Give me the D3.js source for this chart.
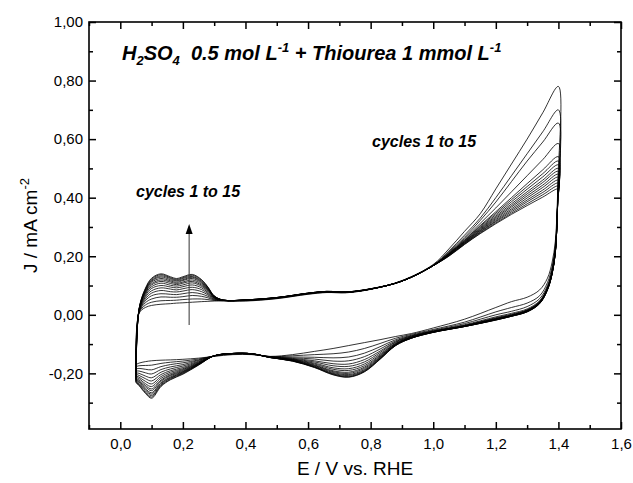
<!DOCTYPE html>
<html><head><meta charset="utf-8">
<script src="https://cdn.jsdelivr.net/npm/d3@7/dist/d3.min.js"></script>
<style>
body{margin:0;background:#fff;}
svg{display:block;font-family:"Liberation Sans",Arial,sans-serif;}
</style></head>
<body><svg id="c" width="633" height="483"></svg>
<script>
// ---- data (E in V vs RHE, J in mA cm-2) ----
const E_anodic = [0.05,0.06,0.08,0.10,0.13,0.16,0.18,0.20,0.23,0.26,0.28,0.30,0.33,0.40,0.50,0.60,0.66,0.72,0.80,0.90,1.00,1.05,1.10,1.15,1.20,1.25,1.30,1.35,1.40];
const E_cathodic = [1.398,1.395,1.39,1.38,1.365,1.34,1.30,1.25,1.20,1.10,1.00,0.93,0.88,0.83,0.78,0.73,0.68,0.62,0.55,0.48,0.42,0.36,0.30,0.25,0.20,0.16,0.13,0.10,0.08,0.06,0.05];

const J_anodic = [
 [-0.170, 0.005,0.025,0.032,0.036,0.038,0.040,0.041,0.043,0.045,0.046,0.047,0.048, 0.047,0.055,0.070,0.076,0.075,0.087,0.117,0.172, 0.225,0.285,0.345,0.430,0.515,0.600,0.690,0.780],
 [-0.177, 0.007,0.033,0.043,0.048,0.049,0.050,0.052,0.054,0.054,0.052,0.049,0.048, 0.048,0.056,0.071,0.077,0.076,0.087,0.116,0.170, 0.218,0.272,0.330,0.400,0.475,0.550,0.625,0.700],
 [-0.185, 0.009,0.041,0.054,0.061,0.060,0.060,0.062,0.066,0.063,0.058,0.051,0.048, 0.049,0.057,0.072,0.078,0.076,0.088,0.116,0.169, 0.215,0.265,0.322,0.385,0.455,0.525,0.590,0.655],
 [-0.192, 0.010,0.048,0.065,0.072,0.070,0.069,0.072,0.076,0.071,0.063,0.053,0.049, 0.050,0.058,0.073,0.079,0.077,0.088,0.115,0.168, 0.212,0.260,0.312,0.365,0.420,0.475,0.530,0.585],
 [-0.198, 0.012,0.054,0.074,0.083,0.079,0.078,0.081,0.086,0.079,0.068,0.055,0.049, 0.050,0.058,0.073,0.079,0.077,0.088,0.115,0.168, 0.210,0.256,0.305,0.352,0.400,0.448,0.495,0.540],
 [-0.203, 0.013,0.060,0.082,0.092,0.088,0.085,0.089,0.094,0.086,0.072,0.057,0.049, 0.050,0.058,0.073,0.079,0.077,0.088,0.115,0.168, 0.209,0.254,0.302,0.347,0.393,0.438,0.482,0.525],
 [-0.208, 0.014,0.065,0.090,0.100,0.095,0.092,0.096,0.102,0.092,0.076,0.058,0.049, 0.050,0.058,0.073,0.079,0.077,0.088,0.115,0.168, 0.208,0.252,0.298,0.342,0.386,0.429,0.471,0.512],
 [-0.213, 0.015,0.070,0.096,0.108,0.101,0.098,0.102,0.109,0.097,0.080,0.059,0.049, 0.050,0.058,0.073,0.079,0.077,0.088,0.115,0.168, 0.207,0.250,0.295,0.337,0.379,0.420,0.460,0.500],
 [-0.217, 0.016,0.074,0.102,0.114,0.107,0.103,0.108,0.114,0.101,0.083,0.061,0.050, 0.050,0.058,0.073,0.079,0.077,0.088,0.115,0.168, 0.206,0.249,0.292,0.333,0.373,0.413,0.452,0.490],
 [-0.220, 0.017,0.077,0.106,0.119,0.112,0.107,0.112,0.119,0.105,0.085,0.061,0.050, 0.050,0.058,0.073,0.079,0.077,0.088,0.115,0.168, 0.205,0.247,0.289,0.329,0.368,0.406,0.443,0.480],
 [-0.223, 0.018,0.080,0.111,0.124,0.116,0.111,0.117,0.124,0.109,0.088,0.062,0.050, 0.051,0.059,0.073,0.079,0.077,0.088,0.115,0.168, 0.204,0.246,0.287,0.325,0.362,0.399,0.435,0.470],
 [-0.225, 0.018,0.083,0.115,0.129,0.120,0.115,0.120,0.128,0.112,0.090,0.063,0.050, 0.051,0.059,0.074,0.080,0.078,0.088,0.115,0.168, 0.203,0.244,0.284,0.321,0.357,0.392,0.426,0.460],
 [-0.228, 0.019,0.085,0.118,0.133,0.124,0.118,0.124,0.131,0.115,0.092,0.064,0.050, 0.051,0.059,0.074,0.080,0.078,0.089,0.115,0.168, 0.202,0.243,0.282,0.318,0.352,0.386,0.418,0.450],
 [-0.230, 0.020,0.088,0.122,0.137,0.127,0.121,0.127,0.135,0.118,0.094,0.064,0.050, 0.051,0.059,0.074,0.080,0.078,0.089,0.115,0.168, 0.201,0.241,0.279,0.314,0.347,0.379,0.410,0.440],
 [-0.232, 0.020,0.090,0.125,0.140,0.130,0.124,0.130,0.138,0.120,0.095,0.065,0.050, 0.051,0.059,0.074,0.080,0.078,0.089,0.115,0.168, 0.200,0.240,0.277,0.311,0.343,0.373,0.402,0.430]
];

const J_cathodic = [
 [0.450,0.340,0.250,0.180,0.125,0.085,0.060,0.045,0.025,-0.015,-0.045, -0.064,-0.074,-0.085,-0.095,-0.105,-0.115,-0.125,-0.136,-0.142, -0.136,-0.136,-0.142, -0.148,-0.152,-0.154,-0.155,-0.157,-0.160,-0.165,-0.170],
 [0.420,0.320,0.235,0.165,0.110,0.065,0.040,0.025,0.010,-0.025,-0.050, -0.067,-0.080,-0.098,-0.115,-0.127,-0.133,-0.136,-0.140,-0.143, -0.135,-0.134,-0.141, -0.151,-0.158,-0.162,-0.166,-0.172,-0.173,-0.174,-0.177],
 [0.410,0.310,0.225,0.155,0.100,0.055,0.028,0.012,0.000,-0.030,-0.053, -0.070,-0.085,-0.109,-0.131,-0.144,-0.147,-0.145,-0.144,-0.143, -0.134,-0.133,-0.140, -0.154,-0.164,-0.170,-0.177,-0.188,-0.186,-0.183,-0.185],
 [0.405,0.305,0.220,0.150,0.095,0.048,0.020,0.005,-0.007,-0.034,-0.055, -0.072,-0.089,-0.117,-0.143,-0.157,-0.158,-0.151,-0.147,-0.144, -0.134,-0.133,-0.140, -0.156,-0.170,-0.178,-0.187,-0.202,-0.198,-0.192,-0.192],
 [0.400,0.300,0.217,0.147,0.092,0.045,0.017,0.002,-0.010,-0.036,-0.056, -0.073,-0.092,-0.124,-0.153,-0.168,-0.167,-0.157,-0.149,-0.144, -0.134,-0.133,-0.140, -0.159,-0.175,-0.185,-0.196,-0.215,-0.209,-0.200,-0.198],
 [0.400,0.300,0.216,0.146,0.091,0.044,0.016,0.000,-0.012,-0.037,-0.057, -0.075,-0.094,-0.129,-0.161,-0.176,-0.174,-0.161,-0.151,-0.145, -0.134,-0.133,-0.140, -0.161,-0.180,-0.191,-0.204,-0.226,-0.218,-0.207,-0.203],
 [0.400,0.300,0.215,0.145,0.090,0.043,0.015,-0.001,-0.013,-0.038,-0.057, -0.076,-0.097,-0.134,-0.168,-0.184,-0.181,-0.165,-0.152,-0.145, -0.133,-0.132,-0.140, -0.163,-0.184,-0.196,-0.211,-0.236,-0.227,-0.213,-0.208],
 [0.400,0.300,0.214,0.144,0.089,0.042,0.014,-0.002,-0.014,-0.038,-0.058, -0.077,-0.098,-0.138,-0.174,-0.190,-0.186,-0.168,-0.153,-0.145, -0.133,-0.132,-0.140, -0.165,-0.187,-0.201,-0.217,-0.245,-0.235,-0.218,-0.213],
 [0.400,0.300,0.213,0.143,0.088,0.041,0.013,-0.003,-0.015,-0.039,-0.058, -0.077,-0.100,-0.141,-0.179,-0.196,-0.191,-0.171,-0.154,-0.145, -0.133,-0.132,-0.140, -0.166,-0.190,-0.205,-0.223,-0.253,-0.241,-0.223,-0.217],
 [0.400,0.300,0.212,0.142,0.087,0.040,0.012,-0.003,-0.016,-0.039,-0.059, -0.078,-0.101,-0.144,-0.183,-0.200,-0.194,-0.173,-0.155,-0.146, -0.133,-0.132,-0.140, -0.167,-0.193,-0.208,-0.227,-0.259,-0.246,-0.227,-0.220],
 [0.400,0.300,0.212,0.142,0.087,0.040,0.012,-0.004,-0.016,-0.039,-0.059, -0.079,-0.102,-0.146,-0.187,-0.204,-0.197,-0.175,-0.156,-0.146, -0.133,-0.132,-0.140, -0.168,-0.195,-0.212,-0.232,-0.266,-0.252,-0.230,-0.223],
 [0.400,0.300,0.211,0.141,0.086,0.039,0.011,-0.004,-0.017,-0.040,-0.059, -0.079,-0.103,-0.148,-0.190,-0.207,-0.200,-0.177,-0.157,-0.146, -0.133,-0.132,-0.140, -0.169,-0.197,-0.215,-0.235,-0.271,-0.256,-0.234,-0.225],
 [0.400,0.300,0.211,0.141,0.086,0.039,0.011,-0.005,-0.017,-0.040,-0.060, -0.080,-0.104,-0.150,-0.192,-0.210,-0.202,-0.178,-0.157,-0.146, -0.133,-0.132,-0.140, -0.170,-0.199,-0.217,-0.239,-0.276,-0.260,-0.237,-0.228],
 [0.400,0.300,0.210,0.140,0.085,0.038,0.010,-0.005,-0.018,-0.040,-0.060, -0.080,-0.105,-0.151,-0.194,-0.212,-0.204,-0.179,-0.158,-0.146, -0.133,-0.132,-0.140, -0.171,-0.201,-0.220,-0.242,-0.281,-0.265,-0.240,-0.230],
 [0.400,0.300,0.210,0.140,0.085,0.038,0.010,-0.005,-0.018,-0.040,-0.060, -0.080,-0.105,-0.152,-0.195,-0.213,-0.205,-0.180,-0.158,-0.146, -0.133,-0.132,-0.140, -0.172,-0.203,-0.222,-0.245,-0.285,-0.268,-0.242,-0.232]
];

const xMajor = [0.0,0.2,0.4,0.6,0.8,1.0,1.2,1.4,1.6];
const xMinor = [-0.1,0.1,0.3,0.5,0.7,0.9,1.1,1.3,1.5];
const yMajor = [-0.2,0.0,0.2,0.4,0.6,0.8,1.0];
const yMinor = [-0.3,-0.1,0.1,0.3,0.5,0.7,0.9];
const arrowE = [0.22, 0.22];
const arrowJ = [-0.035, 0.31];

// ---- layout ----
const W = 633, H = 483;
const m = {l:89, r:12, t:22, b:54};
const svg = d3.select("#c");
const x = d3.scaleLinear().domain([-0.1,1.6]).range([m.l, W-m.r]);
const y = d3.scaleLinear().domain([-0.39,1.0]).range([H-m.b, m.t]);

const loc = d3.formatLocale({decimal:",", thousands:".", grouping:[3], currency:["",""], minus:"-"});
const fx = loc.format(".1f"), fy = loc.format(".2f");

// curves
const line = d3.line().x(d=>x(d[0])).y(d=>y(d[1])).curve(d3.curveCatmullRom.alpha(0.5));
const cycles = J_anodic.map((ja,i)=>{
  const pts = E_anodic.map((e,k)=>[e, ja[k]]);
  return pts.concat(E_cathodic.map((e,k)=>[e, J_cathodic[i][k]]));
});
svg.append("g").selectAll("path").data(cycles).join("path")
  .attr("d", line).attr("fill","none").attr("stroke","#000").attr("stroke-width",0.8);

// arrow
svg.append("line").attr("x1",x(arrowE[0])).attr("x2",x(arrowE[1]))
  .attr("y1",y(arrowJ[0])).attr("y2",y(arrowJ[1])+8)
  .attr("stroke","#444").attr("stroke-width",1.1);
const ax = x(arrowE[1]), ay = y(arrowJ[1]);
svg.append("path").attr("d",`M${ax},${ay} L${ax-3.5},${ay+10} L${ax+3.5},${ay+10} Z`).attr("fill","#000");

// axes (inward ticks)
const gB = svg.append("g").attr("transform",`translate(0,${H-m.b})`)
  .call(d3.axisBottom(x).tickValues(xMajor).tickSize(-7).tickPadding(9).tickFormat(fx));
gB.append("g").call(d3.axisBottom(x).tickValues(xMinor).tickSize(-4).tickFormat(""));
const gT = svg.append("g").attr("transform",`translate(0,${m.t})`)
  .call(d3.axisTop(x).tickValues(xMajor).tickSize(-7).tickFormat(""));
gT.append("g").call(d3.axisTop(x).tickValues(xMinor).tickSize(-4).tickFormat(""));
const gL = svg.append("g").attr("transform",`translate(${m.l},0)`)
  .call(d3.axisLeft(y).tickValues(yMajor).tickSize(-7).tickPadding(6).tickFormat(fy));
gL.append("g").call(d3.axisLeft(y).tickValues(yMinor).tickSize(-4).tickFormat(""));
const gR = svg.append("g").attr("transform",`translate(${W-m.r},0)`)
  .call(d3.axisRight(y).tickValues(yMajor).tickSize(-7).tickFormat(""));
gR.append("g").call(d3.axisRight(y).tickValues(yMinor).tickSize(-4).tickFormat(""));
svg.selectAll(".domain").remove();
svg.selectAll(".tick line").attr("stroke","#000").attr("stroke-width",1.5);
svg.selectAll(".tick text").attr("font-size",15).attr("font-family","Liberation Sans, Arial, sans-serif").attr("fill","#000");
svg.append("rect").attr("x",m.l).attr("y",m.t).attr("width",W-m.l-m.r).attr("height",H-m.t-m.b)
  .attr("fill","none").attr("stroke","#000").attr("stroke-width",1.6);

// axis titles
svg.append("text").attr("x",(m.l+W-m.r)/2).attr("y",475).attr("text-anchor","middle")
  .attr("font-size",19).text("E / V vs. RHE");
const yt = svg.append("text").attr("transform",`translate(37,${(m.t+H-m.b)/2}) rotate(-90)`)
  .attr("text-anchor","middle").attr("font-size",19);
yt.append("tspan").text("J / mA cm");
yt.append("tspan").attr("dy",-8).attr("font-size",13).text("-2");

// title
const t = svg.append("text").attr("x",122).attr("y",60).attr("font-size",20)
  .attr("font-weight","bold").attr("font-style","italic");
t.append("tspan").text("H");
t.append("tspan").attr("dy",5).attr("font-size",13).text("2");
t.append("tspan").attr("dy",-5).text("SO");
t.append("tspan").attr("dy",5).attr("font-size",13).text("4");
t.append("tspan").attr("dy",-5).attr("xml:space","preserve").text("  0.5 mol L");
t.append("tspan").attr("dy",-8).attr("font-size",13).text("-1");
t.append("tspan").attr("dy",8).text(" + Thiourea 1 mmol L");
t.append("tspan").attr("dy",-8).attr("font-size",13).text("-1");

// annotations
svg.append("text").attr("x",372).attr("y",147).attr("font-size",16).attr("font-weight","bold")
  .attr("font-style","italic").text("cycles 1 to 15");
svg.append("text").attr("x",136).attr("y",197).attr("font-size",16).attr("font-weight","bold")
  .attr("font-style","italic").text("cycles 1 to 15");
</script></body></html>
